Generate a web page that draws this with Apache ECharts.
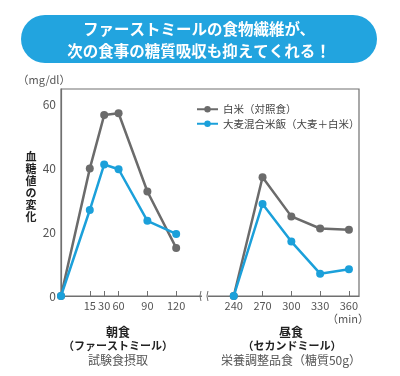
<!DOCTYPE html>
<html>
<head>
<meta charset="utf-8">
<script src="https://cdn.jsdelivr.net/npm/echarts@6/dist/echarts.min.js"></script>
<style>
  html, body { margin: 0; padding: 0; background: #fff; }
  #chart { width: 400px; height: 376px; }
</style>
</head>
<body>
<div id="chart"></div>
<script>
// 血糖値の変化 (mg/dl)
var breakfastMin = [0, 15, 30, 60, 90, 120];
var lunchMin = [240, 270, 300, 330, 360];
var whiteBreakfast = [0, 40, 56.8, 57.4, 32.8, 15.1];
var barleyBreakfast = [0, 27.0, 41.3, 39.8, 23.6, 19.5];
var whiteLunch = [0, 37.3, 25.0, 21.2, 20.8];
var barleyLunch = [0, 28.9, 17.1, 7.0, 8.4];
var yTicks = [0, 20, 40, 60];

// the x axis is not to scale: every time label sits on its own slot
var slotOf = { 0: 0, 15: 2, 30: 3, 60: 4, 90: 6, 120: 8, 240: 12, 270: 14, 300: 16, 330: 18, 360: 20 };
var tickMin = [15, 30, 60, 90, 120, 240, 270, 300, 330, 360];

var GRAY = '#6b6b6b';
var BLUE = '#1ba0da';
var FONT = '"Noto Sans CJK JP", "Noto Sans", sans-serif';

function pairs(mins, vals) {
  return mins.map(function (m, i) { return [slotOf[m], vals[i]]; });
}
function lineSeries(name, color, data, z) {
  return {
    name: name,
    type: 'line',
    data: data,
    z: z,
    symbol: 'circle',
    symbolSize: 8,
    lineStyle: { color: color, width: 2.5 },
    itemStyle: { color: color },
    emphasis: { disabled: true }
  };
}

var slotTicks = tickMin.map(function (m) { return slotOf[m]; });
var minOfSlot = {};
Object.keys(slotOf).forEach(function (m) { minOfSlot[slotOf[m]] = m; });

var myChart = echarts.init(document.getElementById('chart'), null, { renderer: 'canvas' });
var option = {
  animation: false,
  textStyle: { fontFamily: FONT },
  grid: {
    left: 61, right: 41, top: 89, bottom: 80,
    show: true, borderColor: '#707070', borderWidth: 1.2
  },
  legend: {
    data: ['白米（対照食）', '大麦混合米飯（大麦＋白米）'],
    orient: 'vertical',
    left: 191, top: 99,
    itemWidth: 21, itemHeight: 8, itemGap: 4,
    textStyle: { color: '#444', fontSize: 10.5, fontFamily: FONT }
  },
  xAxis: {
    type: 'value',
    min: 0, max: 20.7,
    splitLine: { show: false },
    axisLine: { lineStyle: { color: '#707070', width: 1.2 } },
    axisTick: { show: true, customValues: slotTicks, length: 5, inside: true, lineStyle: { color: '#707070' } },
    axisLabel: {
      customValues: slotTicks,
      color: '#555', fontSize: 11, margin: 4,
      formatter: function (v) { return minOfSlot[v]; }
    }
  },
  yAxis: {
    type: 'value',
    min: 0, max: 65, interval: 20,
    splitLine: { show: false },
    axisLine: { show: true, lineStyle: { color: '#707070', width: 1.2 } },
    axisTick: { show: false },
    axisLabel: { customValues: yTicks, color: '#555', fontSize: 12, margin: 5 }
  },
  series: [
    lineSeries('白米（対照食）', GRAY, pairs(breakfastMin, whiteBreakfast), 2),
    lineSeries('白米（対照食）', GRAY, pairs(lunchMin, whiteLunch), 2),
    lineSeries('大麦混合米飯（大麦＋白米）', BLUE, pairs(breakfastMin, barleyBreakfast), 3),
    lineSeries('大麦混合米飯（大麦＋白米）', BLUE, pairs(lunchMin, barleyLunch), 3)
  ]
};
myChart.setOption(option);

// decorations: banner, axis captions, break mark
var bx = myChart.convertToPixel({ gridIndex: 0 }, [10, 0]);
var caption = function (text, x, y, bold, size) {
  return {
    type: 'text', z: 10,
    style: {
      text: text, x: x, y: y, align: 'center', verticalAlign: 'middle',
      fill: bold ? '#222' : '#555', fontFamily: FONT,
      fontWeight: bold ? 'bold' : 'normal', fontSize: size || 12
    }
  };
};
myChart.setOption({
  graphic: [
    { type: 'rect', shape: { x: 21, y: 15, width: 356, height: 48, r: 24 }, style: { fill: '#22a4df' } },
    {
      type: 'text',
      style: {
        text: 'ファーストミールの食物繊維が、\n次の食事の糖質吸収も抑えてくれる！',
        x: 199, y: 40, align: 'center', verticalAlign: 'middle',
        fill: '#fff', fontFamily: FONT, fontWeight: 'bold', fontSize: 15.5, lineHeight: 22
      }
    },
    caption('（mg/dl）', 44, 80, false, 11),
    {
      type: 'text',
      style: {
        text: '血\n糖\n値\nの\n変\n化', x: 31, y: 187, align: 'center', verticalAlign: 'middle',
        fill: '#222', fontFamily: FONT, fontWeight: 'bold', fontSize: 11, lineHeight: 12
      }
    },
    caption('（min）', 348, 319, false, 11),
    caption('朝食', 118, 332, true, 12),
    caption('（ファーストミール）', 118, 346, true, 11),
    caption('試験食摂取', 118, 360, false, 12),
    caption('昼食', 291, 332, true, 12),
    caption('（セカンドミール）', 292, 346, true, 11),
    caption('栄養調整品食（糖質50g）', 291, 360, false, 12),
    { type: 'rect', z: 20, shape: { x: bx[0] - 3, y: bx[1] - 3, width: 6, height: 6 }, style: { fill: '#fff' } },
    { type: 'bezierCurve', z: 21, shape: { x1: bx[0] - 4, y1: bx[1] - 5, x2: bx[0] - 4, y2: bx[1] + 5, cpx1: bx[0] - 6, cpy1: bx[1] }, style: { stroke: '#707070', lineWidth: 1, fill: null } },
    { type: 'bezierCurve', z: 21, shape: { x1: bx[0] + 3, y1: bx[1] - 5, x2: bx[0] + 3, y2: bx[1] + 5, cpx1: bx[0] + 1, cpy1: bx[1] }, style: { stroke: '#707070', lineWidth: 1, fill: null } }
  ]
});
</script>
</body>
</html>
